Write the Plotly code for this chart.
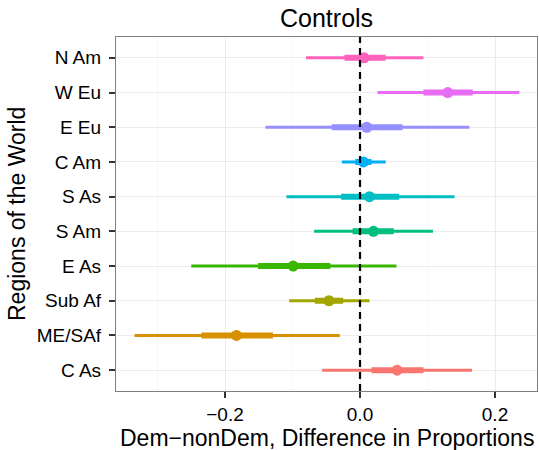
import plotly.graph_objects as go

# Data (bottom to top)
regions = ["C As", "ME/SAf", "Sub Af", "E As", "S Am", "S As", "C Am", "E Eu", "W Eu", "N Am"]
estimate = [0.055, -0.183, -0.046, -0.099, 0.020, 0.014, 0.005, 0.010, 0.130, 0.006]
lo_inner = [0.017, -0.235, -0.067, -0.151, -0.011, -0.028, -0.007, -0.042, 0.094, -0.023]
hi_inner = [0.094, -0.129, -0.025, -0.044, 0.050, 0.058, 0.017, 0.063, 0.167, 0.038]
lo_outer = [-0.056, -0.334, -0.105, -0.250, -0.068, -0.109, -0.027, -0.140, 0.026, -0.080]
hi_outer = [0.166, -0.030, 0.014, 0.054, 0.108, 0.140, 0.038, 0.162, 0.236, 0.094]
colors = ["#F8766D", "#D89000", "#A3A500", "#39B600", "#00BF7D",
          "#00BFC4", "#00B0F6", "#9590FF", "#E76BF3", "#FF62BC"]
x_ticks = [-0.2, 0.0, 0.2]
x_tick_text = ["\u22120.2", "0.0", "0.2"]

FONT = "Liberation Sans, Arial, Helvetica, sans-serif"

fig = go.Figure()
for i, r in enumerate(regions):
    c = colors[i]
    fig.add_trace(go.Scatter(x=[lo_outer[i], hi_outer[i]], y=[r, r], mode="lines",
                             line=dict(color=c, width=3), showlegend=False, hoverinfo="skip"))
    fig.add_trace(go.Scatter(x=[lo_inner[i], hi_inner[i]], y=[r, r], mode="lines",
                             line=dict(color=c, width=6), showlegend=False, hoverinfo="skip"))
    fig.add_trace(go.Scatter(x=[estimate[i]], y=[r], mode="markers",
                             marker=dict(color=c, size=11, line=dict(width=0)),
                             showlegend=False, name=r))

fig.add_shape(type="line", xref="x", yref="paper", x0=0, x1=0, y0=0, y1=1,
              line=dict(color="black", width=2.2, dash="7px,5px"), layer="above")

fig.update_layout(
    width=539, height=450,
    margin=dict(l=116, r=2, t=37, b=59),
    paper_bgcolor="white", plot_bgcolor="white",
    font=dict(family=FONT, color="black"),
    showlegend=False,
    annotations=[
        dict(text="Controls", xref="paper", yref="paper", x=0.5, y=1,
             xanchor="center", yanchor="bottom", yshift=3, showarrow=False,
             font=dict(size=25, color="black", family=FONT)),
        dict(text="Dem\u2212nonDem, Difference in Proportions", xref="paper", yref="paper",
             x=0.5, y=0, xanchor="center", yanchor="top", yshift=-32, showarrow=False,
             font=dict(size=23, color="black", family=FONT)),
        dict(text="Regions of the World", xref="paper", yref="paper", x=0, y=0.5,
             xanchor="center", yanchor="middle", xshift=-99, textangle=-90, showarrow=False,
             font=dict(size=23, color="black", family=FONT)),
    ],
)

fig.update_xaxes(
    range=[-0.3615, 0.2622], tickvals=x_ticks, ticktext=x_tick_text,
    showgrid=True, gridcolor="#EBEBEB", gridwidth=1, zeroline=False,
    minor=dict(tickvals=[-0.3, -0.1, 0.1], showgrid=True, gridcolor="#F7F7F7", gridwidth=1, ticks=""),
    showline=True, linecolor="#7F7F7F", linewidth=1.2, mirror=True,
    ticks="outside", ticklen=6, tickwidth=1.5, tickcolor="#333333",
    tickfont=dict(size=19, color="black", family=FONT),
)
fig.update_yaxes(
    type="category", categoryorder="array", categoryarray=regions,
    range=[-0.6, 9.6],
    showgrid=True, gridcolor="#EBEBEB", gridwidth=1, zeroline=False,
    showline=True, linecolor="#7F7F7F", linewidth=1.2, mirror=True,
    ticks="outside", ticklen=6, tickwidth=1.5, tickcolor="#333333",
    ticklabelstandoff=4,
    tickfont=dict(size=19, color="black", family=FONT),
)

fig.write_html("out.html", config={"displayModeBar": False},
               post_script="document.body.style.margin='0';document.body.style.overflow='hidden';")
